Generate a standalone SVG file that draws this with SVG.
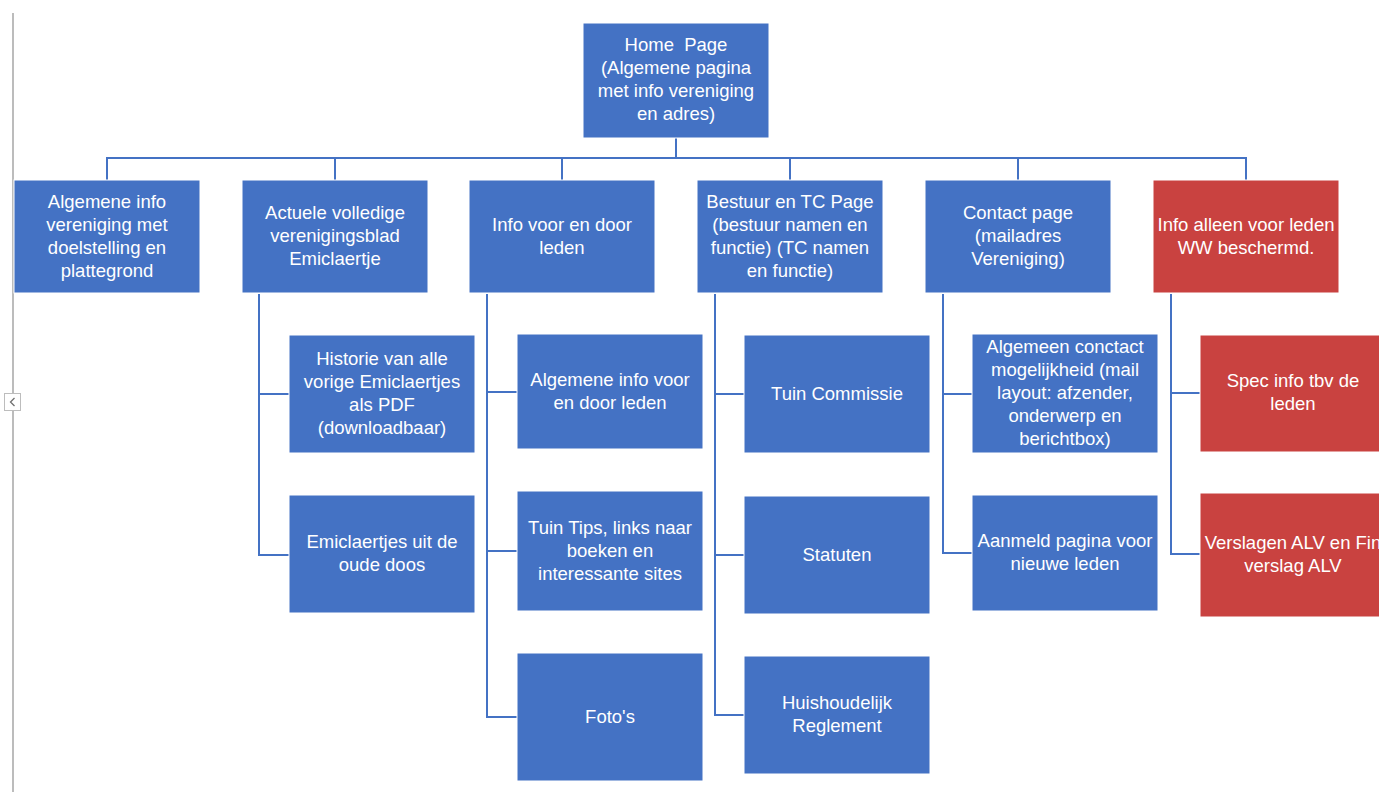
<svg xmlns="http://www.w3.org/2000/svg" width="1379" height="792" viewBox="0 0 1379 792">
<style>
.b{fill:#4472C4;stroke:#ffffff;stroke-width:1}
.r{fill:#C94240;stroke:#ffffff;stroke-width:1}
.c{fill:none;stroke:#4472C4;stroke-width:2}
text{font-family:"Liberation Sans",Arial,sans-serif;font-size:18.5px;fill:#ffffff;text-anchor:middle}
</style>
<rect width="1379" height="792" fill="#ffffff"/>
<g id="sidebar">
<line x1="13" y1="13" x2="13" y2="393" stroke="#a6a6a6" stroke-width="1.5"/>
<line x1="13" y1="411" x2="13" y2="792" stroke="#a6a6a6" stroke-width="1.5"/>
<rect x="4.5" y="393.5" width="16" height="17" fill="#ffffff" stroke="#bdbdbd" stroke-width="1"/>
<polyline points="14.5,398 10.5,402 14.5,406" fill="none" stroke="#707070" stroke-width="1.3"/>
</g>
<g id="connectors">
<polyline class="c" points="676,138 676,158"/>
<polyline class="c" points="107,180 107,158 1246,158 1246,180"/>
<line class="c" x1="335" y1="158" x2="335" y2="180"/>
<line class="c" x1="562" y1="158" x2="562" y2="180"/>
<line class="c" x1="790" y1="158" x2="790" y2="180"/>
<line class="c" x1="1018" y1="158" x2="1018" y2="180"/>
<polyline class="c" points="259,294 259,555 289,555"/>
<line class="c" x1="259" y1="394" x2="289" y2="394"/>
<polyline class="c" points="487,294 487,717 517,717"/>
<line class="c" x1="487" y1="392" x2="517" y2="392"/>
<line class="c" x1="487" y1="551" x2="517" y2="551"/>
<polyline class="c" points="715,294 715,715 744,715"/>
<line class="c" x1="715" y1="394" x2="744" y2="394"/>
<line class="c" x1="715" y1="555" x2="744" y2="555"/>
<polyline class="c" points="943,294 943,553 972,553"/>
<line class="c" x1="943" y1="394" x2="972" y2="394"/>
<polyline class="c" points="1171,294 1171,554 1200,554"/>
<line class="c" x1="1171" y1="393" x2="1200" y2="393"/>
</g>
<g id="home">
<rect class="b" x="583" y="23" width="186" height="115"/>
<text x="676" y="51" xml:space="preserve">Home  Page</text>
<text x="676" y="74">(Algemene pagina</text>
<text x="676" y="97">met info vereniging</text>
<text x="676" y="120">en adres)</text>
</g>
<g id="algemene-info">
<rect class="b" x="14" y="180" width="186" height="113"/>
<text x="107" y="208">Algemene info</text>
<text x="107" y="231">vereniging met</text>
<text x="107" y="254">doelstelling en</text>
<text x="107" y="277">plattegrond</text>
</g>
<g id="verenigingsblad">
<rect class="b" x="242" y="180" width="186" height="113"/>
<text x="335" y="219">Actuele volledige</text>
<text x="335" y="242">verenigingsblad</text>
<text x="335" y="265">Emiclaertje</text>
</g>
<g id="info-leden">
<rect class="b" x="469" y="180" width="186" height="113"/>
<text x="562" y="231">Info voor en door</text>
<text x="562" y="254">leden</text>
</g>
<g id="bestuur">
<rect class="b" x="697" y="180" width="186" height="113"/>
<text x="790" y="208">Bestuur en TC Page</text>
<text x="790" y="231">(bestuur namen en</text>
<text x="790" y="254">functie) (TC namen</text>
<text x="790" y="277">en functie)</text>
</g>
<g id="contact">
<rect class="b" x="925" y="180" width="186" height="113"/>
<text x="1018" y="219">Contact page</text>
<text x="1018" y="242">(mailadres</text>
<text x="1018" y="265">Vereniging)</text>
</g>
<g id="leden-only">
<rect class="r" x="1153" y="180" width="186" height="113"/>
<text x="1246" y="231">Info alleen voor leden</text>
<text x="1246" y="254">WW beschermd.</text>
</g>
<g id="historie">
<rect class="b" x="289" y="335" width="186" height="118"/>
<text x="382" y="365">Historie van alle</text>
<text x="382" y="388">vorige Emiclaertjes</text>
<text x="382" y="411">als PDF</text>
<text x="382" y="434">(downloadbaar)</text>
</g>
<g id="oude-doos">
<rect class="b" x="289" y="495" width="186" height="118"/>
<text x="382" y="548">Emiclaertjes uit de</text>
<text x="382" y="571">oude doos</text>
</g>
<g id="algemene-leden">
<rect class="b" x="517" y="334" width="186" height="115"/>
<text x="610" y="386">Algemene info voor</text>
<text x="610" y="409">en door leden</text>
</g>
<g id="tuin-tips">
<rect class="b" x="517" y="491" width="186" height="120"/>
<text x="610" y="534">Tuin Tips, links naar</text>
<text x="610" y="557">boeken en</text>
<text x="610" y="580">interessante sites</text>
</g>
<g id="fotos">
<rect class="b" x="517" y="653" width="186" height="128"/>
<text x="610" y="723">Foto's</text>
</g>
<g id="tuin-commissie">
<rect class="b" x="744" y="335" width="186" height="118"/>
<text x="837" y="400">Tuin Commissie</text>
</g>
<g id="statuten">
<rect class="b" x="744" y="496" width="186" height="118"/>
<text x="837" y="561">Statuten</text>
</g>
<g id="reglement">
<rect class="b" x="744" y="656" width="186" height="118"/>
<text x="837" y="709">Huishoudelijk</text>
<text x="837" y="732">Reglement</text>
</g>
<g id="algemeen-contact">
<rect class="b" x="972" y="334" width="186" height="119"/>
<text x="1065" y="353">Algemeen conctact</text>
<text x="1065" y="376">mogelijkheid (mail</text>
<text x="1065" y="399">layout: afzender,</text>
<text x="1065" y="422">onderwerp en</text>
<text x="1065" y="445">berichtbox)</text>
</g>
<g id="aanmeld">
<rect class="b" x="972" y="495" width="186" height="116"/>
<text x="1065" y="547">Aanmeld pagina voor</text>
<text x="1065" y="570">nieuwe leden</text>
</g>
<g id="spec-info">
<rect class="r" x="1200" y="335" width="186" height="117"/>
<text x="1293" y="387">Spec info tbv de</text>
<text x="1293" y="410">leden</text>
</g>
<g id="verslagen">
<rect class="r" x="1200" y="493" width="186" height="124"/>
<text x="1293" y="549">Verslagen ALV en Fin</text>
<text x="1293" y="572">verslag ALV</text>
</g>
</svg>
